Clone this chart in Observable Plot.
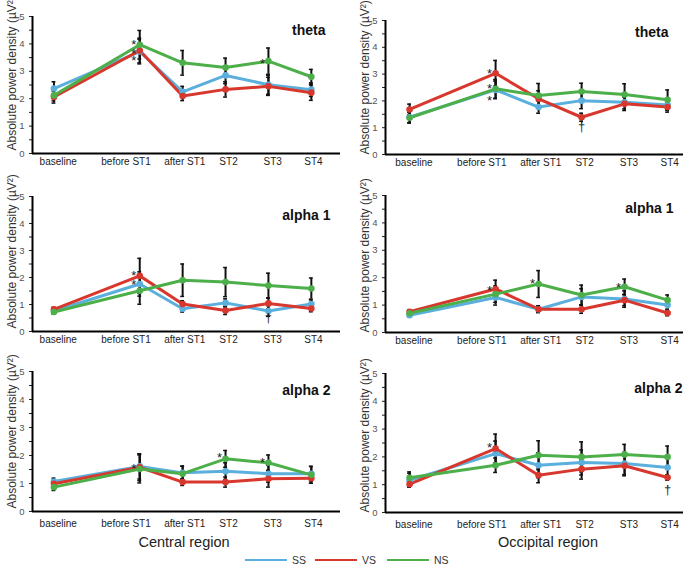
<!DOCTYPE html>
<html>
<head>
<meta charset="utf-8">
<script src="https://cdn.jsdelivr.net/npm/d3@7"></script>
<script src="https://cdn.jsdelivr.net/npm/@observablehq/plot@0.6"></script>
<style>
  html, body { margin: 0; padding: 0; background: #fff; }
  body { font-family: Arial, "Liberation Sans", Helvetica, sans-serif; }
  #wrap { position: relative; width: 685px; height: 565px; overflow: hidden; background: #fff; }
  .panel { position: absolute; }
  .panel svg { overflow: visible; background: transparent; }
  .panel g[aria-label="y-axis tick label"] { fill: #555; font-size: 9.5px; }
  .panel g[aria-label="x-axis tick label"] { fill: #222; font-size: 10px; }
  .region { position: absolute; font-size: 14.5px; color: #222; transform: translateX(-50%); white-space: nowrap; }
</style>
</head>
<body>
<div id="wrap"></div>
<script>
// ---------- data ----------
const steps = ["baseline", "before ST1", "after ST1", "ST2", "ST3", "ST4"];
const stepPos = [0, 2, 3, 4, 5, 6];           // relative time position of each step
const groups = ["SS", "VS", "NS"];
const groupColors = ["#5aafdc", "#d8372d", "#4daf4a"];
const bands = ["theta", "alpha 1", "alpha 2"];
const regions = ["Central region", "Occipital region"];
const yTicks = [0, 0.5, 1, 1.5, 2, 2.5, 3, 3.5, 4, 4.5, 5];
const yLabel = "Absolute power density (\u00b5V\u00b2)";

// Central region
const centralThetaMean = { SS: [2.37, 3.72, 2.25, 2.85, 2.51, 2.33], VS: [2.06, 3.76, 2.10, 2.34, 2.45, 2.22], NS: [2.12, 3.97, 3.31, 3.14, 3.37, 2.80] };
const centralThetaSem  = { SS: [0.25, 0.45, 0.20, 0.30, 0.35, 0.25], VS: [0.22, 0.45, 0.17, 0.28, 0.33, 0.28], NS: [0.20, 0.52, 0.45, 0.34, 0.48, 0.27] };
const centralAlpha1Mean = { SS: [0.76, 1.76, 0.84, 1.06, 0.76, 1.02], VS: [0.82, 2.06, 1.02, 0.78, 1.04, 0.85], NS: [0.72, 1.51, 1.90, 1.83, 1.70, 1.59] };
const centralAlpha1Sem  = { SS: [0.08, 0.45, 0.12, 0.15, 0.20, 0.15], VS: [0.08, 0.65, 0.12, 0.15, 0.20, 0.12], NS: [0.08, 0.50, 0.60, 0.54, 0.46, 0.39] };
const centralAlpha2Mean = { SS: [1.07, 1.61, 1.38, 1.44, 1.35, 1.35], VS: [0.99, 1.58, 1.05, 1.05, 1.17, 1.19], NS: [0.87, 1.52, 1.35, 1.88, 1.74, 1.31] };
const centralAlpha2Sem  = { SS: [0.12, 0.45, 0.24, 0.30, 0.30, 0.26], VS: [0.12, 0.48, 0.12, 0.18, 0.30, 0.18], NS: [0.12, 0.50, 0.27, 0.30, 0.28, 0.30] };

// Occipital region
const occipitalThetaMean = { SS: [1.39, 2.41, 1.77, 2.01, 1.95, 1.85], VS: [1.68, 3.03, 2.08, 1.39, 1.89, 1.77], NS: [1.37, 2.45, 2.20, 2.35, 2.24, 2.04] };
const occipitalThetaSem  = { SS: [0.20, 0.33, 0.23, 0.30, 0.25, 0.20], VS: [0.20, 0.48, 0.30, 0.15, 0.25, 0.19], NS: [0.20, 0.35, 0.45, 0.31, 0.40, 0.37] };
const occipitalAlpha1Mean = { SS: [0.63, 1.28, 0.85, 1.30, 1.22, 1.00], VS: [0.76, 1.59, 0.85, 0.85, 1.18, 0.71], NS: [0.70, 1.40, 1.77, 1.37, 1.67, 1.18] };
const occipitalAlpha1Sem  = { SS: [0.07, 0.28, 0.12, 0.30, 0.30, 0.15], VS: [0.07, 0.32, 0.12, 0.15, 0.20, 0.10], NS: [0.07, 0.30, 0.49, 0.36, 0.28, 0.19] };
const occipitalAlpha2Mean = { SS: [1.16, 2.12, 1.70, 1.80, 1.76, 1.62], VS: [1.02, 2.30, 1.34, 1.56, 1.68, 1.26], NS: [1.25, 1.70, 2.06, 2.00, 2.09, 2.00] };
const occipitalAlpha2Sem  = { SS: [0.25, 0.45, 0.45, 0.45, 0.40, 0.40], VS: [0.10, 0.52, 0.27, 0.36, 0.36, 0.10], NS: [0.21, 0.26, 0.52, 0.54, 0.36, 0.39] };

// significance marks
const annotations = [
  { region: "Central region", band: "theta", step: "before ST1", value: 4.06, symbol: "*" },
  { region: "Central region", band: "theta", step: "before ST1", value: 3.73, symbol: "*" },
  { region: "Central region", band: "theta", step: "before ST1", value: 3.49, symbol: "*" },
  { region: "Central region", band: "theta", step: "ST3", value: 3.40, symbol: "*" },
  { region: "Central region", band: "alpha 1", step: "before ST1", value: 2.16, symbol: "*" },
  { region: "Central region", band: "alpha 1", step: "before ST1", value: 1.85, symbol: "*" },
  { region: "Central region", band: "alpha 1", step: "ST3", value: 0.49, symbol: "\u2020" },
  { region: "Central region", band: "alpha 2", step: "before ST1", value: 1.62, symbol: "*" },
  { region: "Central region", band: "alpha 2", step: "ST2", value: 2.04, symbol: "*" },
  { region: "Central region", band: "alpha 2", step: "ST3", value: 1.86, symbol: "*" },
  { region: "Occipital region", band: "theta", step: "before ST1", value: 3.13, symbol: "*" },
  { region: "Occipital region", band: "theta", step: "before ST1", value: 2.57, symbol: "*" },
  { region: "Occipital region", band: "theta", step: "before ST1", value: 2.13, symbol: "*" },
  { region: "Occipital region", band: "theta", step: "ST2", value: 1.02, symbol: "\u2020" },
  { region: "Occipital region", band: "alpha 1", step: "before ST1", value: 1.62, symbol: "*" },
  { region: "Occipital region", band: "alpha 1", step: "after ST1", value: 1.89, symbol: "*" },
  { region: "Occipital region", band: "alpha 1", step: "ST3", value: 1.74, symbol: "*" },
  { region: "Occipital region", band: "alpha 2", step: "before ST1", value: 2.42, symbol: "*" },
  { region: "Occipital region", band: "alpha 2", step: "ST4", value: 0.83, symbol: "\u2020" }
];

const panels = [
  { region: regions[0], band: bands[0], mean: centralThetaMean, sem: centralThetaSem, col: 0, row: 0 },
  { region: regions[0], band: bands[1], mean: centralAlpha1Mean, sem: centralAlpha1Sem, col: 0, row: 1 },
  { region: regions[0], band: bands[2], mean: centralAlpha2Mean, sem: centralAlpha2Sem, col: 0, row: 2 },
  { region: regions[1], band: bands[0], mean: occipitalThetaMean, sem: occipitalThetaSem, col: 1, row: 0 },
  { region: regions[1], band: bands[1], mean: occipitalAlpha1Mean, sem: occipitalAlpha1Sem, col: 1, row: 1 },
  { region: regions[1], band: bands[2], mean: occipitalAlpha2Mean, sem: occipitalAlpha2Sem, col: 1, row: 2 }
];

// ---------- layout ----------
// where each step's tick label is centred along the x axis (labels are not exactly under the points)
const tickLabelPos = [0.1, 1.68, 3.05, 4.07, 5.1, 6.05];
const columns = [
  { left: 0, width: 342, marginLeft: 32, xMin: -0.5, xMax: 6.68, tickPadding: 5, yLabelDx: -20, yLabelDy: -3,
    frames: [[16, 153], [196, 331], [371, 511]], bandDx: [-15, -10, -10], bandDy: [9, 14, 14], xPad: [4, 4, 8] },
  { left: 342, width: 343, marginLeft: 43, xMin: -0.56, xMax: 6.37, tickPadding: 5, yLabelDx: -20, yLabelDy: 0,
    frames: [[20, 154], [195, 332], [373, 512]], bandDx: [-15, -10, -1], bandDy: [7, 8, 10], xPad: [4, 4, 8] }
];
const MT = 16, MB = 26;
const font = "Arial, 'Liberation Sans', Helvetica, sans-serif";

const wrap = document.getElementById("wrap");

function drawPanel(p) {
  const L = columns[p.col];
  const [fTop, fBottom] = L.frames[p.row];
  const height = fBottom - fTop + MT + MB;
  const rows = groups.flatMap(g => steps.map((s, i) => ({ group: g, step: s, x: stepPos[i], y: p.mean[g][i], e: p.sem[g][i] })));
  const anns = annotations
    .filter(a => a.region === p.region && a.band === p.band)
    .map(a => ({ ...a, x: stepPos[steps.indexOf(a.step)] }));
  const stars = anns.filter(a => a.symbol === "*");
  const daggers = anns.filter(a => a.symbol !== "*");
  const cap = 0.045;

  const svg = Plot.plot({
    width: L.width,
    height,
    marginLeft: L.marginLeft,
    marginRight: 2,
    marginTop: MT,
    marginBottom: MB,
    style: { fontFamily: font, fontSize: "10px", background: "transparent", overflow: "visible", color: "#222" },
    x: { domain: [L.xMin, L.xMax], ticks: tickLabelPos, tickFormat: d => steps[tickLabelPos.indexOf(d)], tickSize: 0, tickPadding: L.xPad[p.row], label: null },
    y: { domain: [0, 5], ticks: yTicks, tickFormat: d => (Number.isInteger(d) ? String(d) : ""), tickSize: 3, tickPadding: L.tickPadding, label: null },
    color: { domain: groups, range: groupColors },
    marks: [
      Plot.line(rows, { x: "x", y: "y", z: "group", stroke: "group", strokeWidth: 3 }),
      Plot.ruleX(rows, { x: "x", y1: d => d.y - d.e, y2: d => d.y + d.e, stroke: "#111", strokeWidth: 2 }),
      Plot.ruleY(rows, { y: d => d.y + d.e, x1: d => d.x - cap, x2: d => d.x + cap, stroke: "#111", strokeWidth: 1.5 }),
      Plot.ruleY(rows, { y: d => d.y - d.e, x1: d => d.x - cap, x2: d => d.x + cap, stroke: "#111", strokeWidth: 1.5 }),
      Plot.dot(rows, { x: "x", y: "y", fill: "group", r: 3.3 }),
      Plot.ruleY([0], { stroke: "#000", strokeWidth: 2 }),
      Plot.ruleX([L.xMin], { y1: 0, y2: 5, stroke: "#000", strokeWidth: 2 }),
      Plot.text(stars, { x: "x", y: "value", text: "symbol", dx: -6, dy: 3, fontSize: 13, fill: "#222" }),
      Plot.text(daggers, { x: "x", y: "value", text: "symbol", fontSize: 13, fill: "#222" }),
      Plot.text([p.band], { frameAnchor: "top-right", textAnchor: "end", lineAnchor: "top", dx: L.bandDx[p.row], dy: L.bandDy[p.row], fontSize: 14, fontWeight: "bold", fill: "#111" }),
      Plot.text([yLabel], { frameAnchor: "bottom-left", rotate: -90, textAnchor: "start", lineAnchor: "middle", dx: L.yLabelDx, dy: L.yLabelDy, fontSize: 12, fill: "#333" })
    ]
  });
  const div = document.createElement("div");
  div.className = "panel";
  div.style.left = L.left + "px";
  div.style.top = (fTop - MT) + "px";
  div.appendChild(svg);
  wrap.appendChild(div);
}

panels.forEach(drawPanel);

// region titles
const regionCenters = [184, 548];
regions.forEach((r, i) => {
  const t = document.createElement("div");
  t.className = "region";
  t.textContent = r;
  t.style.left = regionCenters[i] + "px";
  t.style.top = "534px";
  wrap.appendChild(t);
});

// legend (line swatches)
const legend = d3.select(wrap).append("svg")
  .attr("width", 685).attr("height", 20)
  .style("position", "absolute").style("left", "0px").style("top", "550px");
const legendX = [245, 315, 387];
groups.forEach((g, i) => {
  legend.append("line")
    .attr("x1", legendX[i]).attr("x2", legendX[i] + 42)
    .attr("y1", 10).attr("y2", 10)
    .attr("stroke", groupColors[i]).attr("stroke-width", 2.2);
  legend.append("text")
    .attr("x", legendX[i] + 47).attr("y", 10).attr("dy", "0.35em")
    .attr("font-family", font).attr("font-size", 10.5).attr("fill", "#333")
    .text(g);
});
</script>
</body>
</html>
